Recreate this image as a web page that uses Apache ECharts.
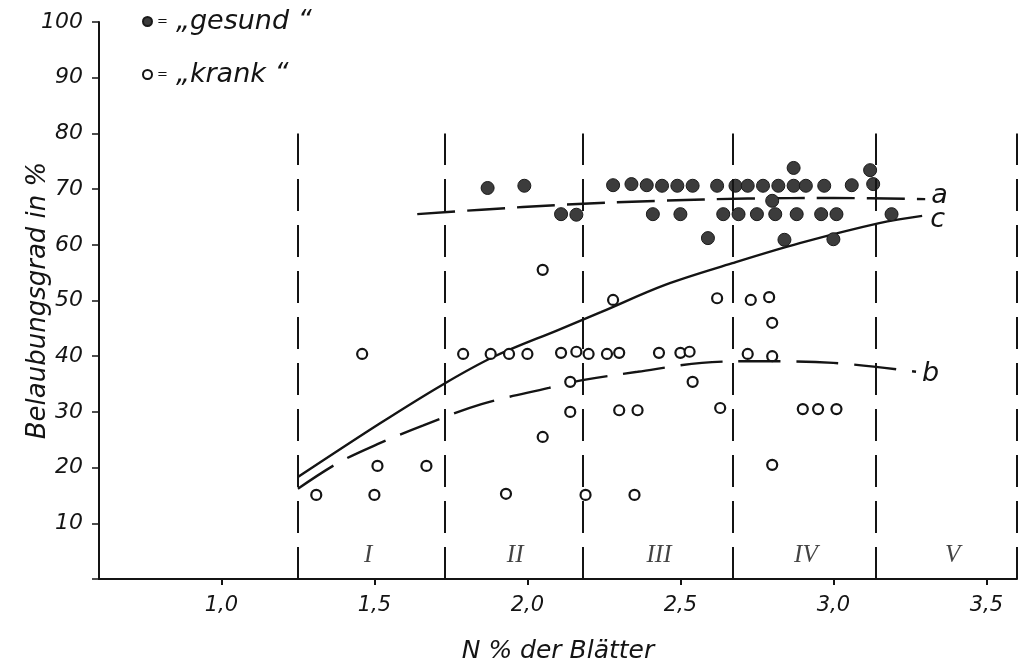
<!DOCTYPE html>
<html>
<head>
<meta charset="utf-8">
<title>Belaubungsgrad und N-Gehalt der Blätter</title>
<script src="https://cdn.jsdelivr.net/npm/echarts@6/dist/echarts.min.js"></script>
<style>
  html, body { margin: 0; padding: 0; background: #fff; }
  #chart { width: 1022px; height: 667px; }
</style>
</head>
<body>
<div id="chart"></div>
<script>
// Leaf N content (%) and foliage density (%) of individual trees
const gesundX = [1.87, 1.99, 2.11, 2.16, 2.28, 2.34, 2.39, 2.44, 2.49, 2.54, 2.62, 2.68, 2.72, 2.77, 2.82, 2.87, 2.91, 2.97, 3.06, 3.13, 2.87, 3.12, 2.80, 2.41, 2.50, 2.64, 2.69, 2.75, 2.81, 2.88, 2.96, 3.01, 3.19, 2.59, 2.84, 3.00];
const gesundY = [70.2, 70.6, 65.5, 65.4, 70.7, 70.9, 70.7, 70.6, 70.6, 70.6, 70.6, 70.6, 70.6, 70.6, 70.6, 70.6, 70.6, 70.6, 70.7, 70.9, 73.8, 73.4, 67.9, 65.5, 65.5, 65.5, 65.5, 65.5, 65.5, 65.5, 65.5, 65.5, 65.5, 61.2, 60.9, 61.0];

const krankX = [1.46, 1.51, 1.67, 1.31, 1.50, 1.79, 1.88, 1.94, 2.00, 2.11, 2.16, 2.20, 2.26, 2.30, 2.43, 2.50, 2.53, 2.54, 2.14, 2.14, 2.05, 1.93, 2.19, 2.35, 2.30, 2.36, 2.63, 2.72, 2.80, 2.80, 2.90, 2.95, 3.01, 2.05, 2.28, 2.62, 2.73, 2.79, 2.80];
const krankY = [40.4, 20.3, 20.3, 15.1, 15.1, 40.4, 40.4, 40.4, 40.4, 40.6, 40.8, 40.4, 40.4, 40.6, 40.6, 40.6, 40.8, 35.4, 35.4, 30.0, 25.5, 15.3, 15.1, 15.1, 30.3, 30.3, 30.7, 40.4, 40.0, 20.5, 30.5, 30.5, 30.5, 55.5, 50.1, 50.4, 50.1, 50.6, 46.0];

// Fitted curves a (gesund), b (krank), c (all trees)
const curveAX = [1.64, 1.85, 2.12, 2.43, 2.72, 3.00, 3.30];
const curveAY = [65.5, 66.3, 67.2, 67.9, 68.3, 68.4, 68.2];
const curveBX = [1.25, 1.38, 1.51, 1.66, 1.85, 2.07, 2.18, 2.36, 2.57, 2.75, 3.00, 3.27];
const curveBY = [16.2, 20.8, 24.2, 27.6, 31.4, 34.3, 35.7, 37.2, 38.8, 39.1, 38.8, 37.2];
const curveCX = [1.25, 1.52, 1.72, 1.89, 2.10, 2.24, 2.45, 2.67, 2.89, 3.15, 3.29];
const curveCY = [18.3, 28.0, 34.8, 39.9, 44.7, 47.9, 52.8, 56.7, 60.3, 63.9, 65.2];

// N classes I–V and their boundaries
const zoneBounds = [1.25, 1.73, 2.18, 2.67, 3.14, 3.6];
const zoneTop = 80;
const zoneNames = ['I', 'II', 'III', 'IV', 'V'];
const zoneLabelX = [1.48, 1.96, 2.43, 2.91, 3.39];
const zoneLabelY = 4.3;

const xTicks = [1.0, 1.5, 2.0, 2.5, 3.0, 3.5];

const zip = (xs, ys) => xs.map((x, i) => [x, ys[i]]);
const INK = '#141414';
const FONT = '"DejaVu Sans", sans-serif';

const chart = echarts.init(document.getElementById('chart'), null, { renderer: 'canvas' });

function curve(name, xs, ys, dash, label, offset) {
  return {
    name: name,
    type: 'line',
    data: zip(xs, ys),
    smooth: 0.35,
    showSymbol: false,
    silent: true,
    lineStyle: { color: INK, width: 2.4, type: dash },
    endLabel: {
      show: true,
      formatter: label,
      color: INK,
      fontFamily: FONT,
      fontStyle: 'italic',
      fontSize: 27,
      distance: 6,
      offset: offset
    },
    z: 2
  };
}

const option = {
  backgroundColor: '#ffffff',
  animation: false,
  grid: { left: 99, right: 5, top: 22, bottom: 88, containLabel: false, outerBoundsMode: 'none' },
  legend: {
    orient: 'vertical',
    left: 137,
    top: 3,
    itemWidth: 9,
    itemHeight: 9,
    itemGap: 26,
    data: [{ name: 'gesund', icon: 'circle' }, { name: 'krank', icon: 'circle' }],
    formatter: n => '{eq|=}{t|„' + n + ' “}',
    textStyle: {
      color: INK,
      rich: {
        eq: { fontSize: 13, fontFamily: FONT, color: INK, padding: [0, 8, 0, 0] },
        t: { fontSize: 27, fontFamily: FONT, fontStyle: 'italic', color: INK }
      }
    }
  },
  xAxis: {
    type: 'value',
    min: 0.6,
    max: 3.6,
    name: 'N % der Blätter',
    nameLocation: 'middle',
    nameGap: 60,
    nameTextStyle: { fontFamily: FONT, fontStyle: 'italic', fontSize: 25, color: INK },
    axisLine: { show: true, onZero: false, lineStyle: { color: INK, width: 2 } },
    axisTick: { show: true, customValues: xTicks, length: 6, lineStyle: { color: INK, width: 2 } },
    axisLabel: {
      customValues: xTicks,
      formatter: v => v.toFixed(1).replace('.', ','),
      fontFamily: FONT, fontStyle: 'italic', fontSize: 21, color: INK, margin: 16
    },
    splitLine: { show: false }
  },
  yAxis: {
    type: 'value',
    min: 0,
    max: 100,
    interval: 10,
    name: 'Belaubungsgrad in %',
    nameLocation: 'middle',
    nameGap: 48,
    nameMoveOverlap: false,
    nameTextStyle: { fontFamily: FONT, fontStyle: 'italic', fontSize: 26, color: INK },
    axisLine: { show: true, onZero: false, lineStyle: { color: INK, width: 2 } },
    axisTick: { show: true, length: 7, lineStyle: { color: INK, width: 1.5 } },
    axisLabel: {
      formatter: v => (v === 0 ? '' : String(v)),
      fontFamily: FONT, fontStyle: 'italic', fontSize: 22, color: INK, margin: 16
    },
    splitLine: { show: false }
  },
  series: [
    {
      // class boundaries and class names
      name: 'Klassen',
      type: 'scatter',
      data: zoneNames.map((n, i) => ({ value: [zoneLabelX[i], zoneLabelY], name: n })),
      symbolSize: 0,
      silent: true,
      label: {
        show: true,
        position: 'inside',
        formatter: p => p.name,
        fontFamily: '"Liberation Serif", serif',
        fontStyle: 'italic',
        fontSize: 25,
        color: INK
      },
      markLine: {
        silent: true,
        symbol: ['none', 'none'],
        label: { show: false },
        lineStyle: { color: INK, width: 2, type: [32, 14] },
        data: zoneBounds.map(x => [{ coord: [x, 0] }, { coord: [x, zoneTop] }])
      },
      z: 1
    },
    curve('a', curveAX, curveAY, [38, 12], 'a', [0, -3]),
    curve('b', curveBX, curveBY, [42, 16], 'b', [0, 2]),
    curve('c', curveCX, curveCY, 'solid', 'c', [2, 4]),
    {
      name: 'gesund',
      type: 'scatter',
      data: zip(gesundX, gesundY),
      symbol: 'circle',
      symbolSize: 13,
      itemStyle: { color: '#3c3c3c', borderColor: '#1a1a1a', borderWidth: 1, opacity: 1 },
      z: 4
    },
    {
      name: 'krank',
      type: 'scatter',
      data: zip(krankX, krankY),
      symbol: 'circle',
      symbolSize: 10,
      itemStyle: { color: '#ffffff', borderColor: INK, borderWidth: 2.2, opacity: 1 },
      z: 4
    }
  ]
};

chart.setOption(option);
</script>
</body>
</html>
